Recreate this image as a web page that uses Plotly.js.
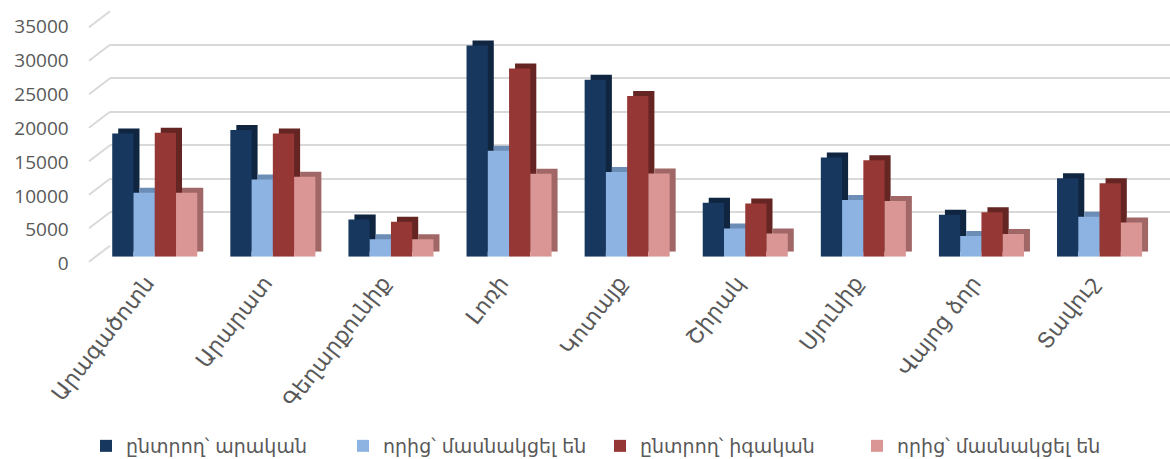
<!DOCTYPE html>
<html>
<head>
<meta charset="utf-8">
<script src="https://cdn.plot.ly/plotly-3.0.1.min.js"></script>
<style>html,body{margin:0;padding:0;background:#fff;}#chart{width:1170px;height:459px;}</style>
</head>
<body>
<div id="chart"></div>
<script>
// ---- data ----
const regions = ["Արագածոտն", "Արարատ", "Գեղարքունիք", "Լոռի", "Կոտայք", "Շիրակ", "Սյունիք", "Վայոց ձոր", "Տավուշ"];
const seriesNames = ["ընտրող՝ արական", "որից՝ մասնակցել են", "ընտրող՝ իգական", "որից՝ մասնակցել են"];
const maleVoters      = [18200, 18700, 5500, 31200, 26150, 7950, 14650, 6180, 11600];
const maleVoted       = [9450, 11400, 2560, 15630, 12520, 4180, 8360, 3050, 5900];
const femaleVoters    = [18300, 18200, 5150, 27800, 23750, 7870, 14260, 6580, 10860];
const femaleVoted     = [9450, 11800, 2560, 12250, 12290, 3440, 8210, 3350, 5060];
const yTicks = [0, 5000, 10000, 15000, 20000, 25000, 30000, 35000];

// ---- styling ----
const W = 1170, H = 459;
const faceColors = ["#17375E", "#8DB3E2", "#953735", "#D99694"];
const sideColors = ["#0F2540", "#6C8DB6", "#642523", "#A06766"];
const allSeries = [maleVoters, maleVoted, femaleVoters, femaleVoted];
const yMax = 35000;

// pixel geometry helpers
const px = v => v / W;
const py = v => (H - v) / H;
const mainX = [95.7, 1158.6], mainY = [256.7, 19.7];
const depthX = 6, depthY = 5;
const gridX = [110, 1170], gridY = [245.7, 11.2];

const traces = [];
// empty trace to hold the back-wall grid subplot
traces.push({x: [null], y: [null], type: 'scatter', mode: 'markers', xaxis: 'x', yaxis: 'y', showlegend: false, hoverinfo: 'skip'});
// side/top faces (3D depth)
allSeries.forEach((vals, i) => {
  traces.push({
    type: 'bar', x: regions, y: vals, xaxis: 'x2', yaxis: 'y2',
    marker: {color: sideColors[i], line: {width: 0}},
    showlegend: false, hoverinfo: 'skip', offsetgroup: String(i)
  });
});
// front faces
allSeries.forEach((vals, i) => {
  traces.push({
    type: 'bar', x: regions, y: vals, xaxis: 'x3', yaxis: 'y3', name: seriesNames[i],
    marker: {color: faceColors[i], line: {width: 0}}, offsetgroup: String(i)
  });
});

// slanted floor-to-wall grid connectors
const gDom = [py(gridY[0]), py(gridY[1])];
const shapes = yTicks.map(v => {
  const yb = gDom[0] + v / yMax * (gDom[1] - gDom[0]);
  return {type: 'line', xref: 'paper', yref: 'paper', x0: px(89), x1: px(gridX[0]),
          y0: yb - 16 / H, y1: yb, line: {color: '#D9D9D9', width: 2}, layer: 'below'};
});

const hidden = {showgrid: false, zeroline: false, showticklabels: false, ticks: '', showline: false};
const layout = {
  width: W, height: H,
  margin: {l: 0, r: 0, t: 0, b: 0, autoexpand: false},
  paper_bgcolor: '#ffffff', plot_bgcolor: 'rgba(0,0,0,0)',
  barmode: 'group', bargap: 0.28, bargroupgap: 0,
  showlegend: true,
  legend: {orientation: 'h', x: px(86), xanchor: 'left', y: py(446), yanchor: 'middle',
           font: {family: 'DejaVu Sans, Noto Sans', size: 19, color: '#595959'},
           itemwidth: 30, traceorder: 'normal', entrywidth: 212, entrywidthmode: 'pixels'},
  xaxis: Object.assign({domain: [px(gridX[0]), 1], anchor: 'y', range: [0, 1]}, hidden),
  yaxis: {domain: gDom, anchor: 'x', range: [0, yMax], tickvals: yTicks, showgrid: true,
          gridcolor: '#D9D9D9', gridwidth: 2, zeroline: false, showticklabels: false, ticks: ''},
  xaxis2: Object.assign({domain: [px(mainX[0] + depthX), px(mainX[1] + depthX)], anchor: 'y2',
           type: 'category', range: [-0.5, regions.length - 0.5]}, hidden),
  yaxis2: Object.assign({domain: [py(mainY[0] - depthY), py(mainY[1] - depthY)], anchor: 'x2',
           range: [0, yMax]}, hidden),
  xaxis3: {domain: [px(mainX[0]), px(mainX[1])], anchor: 'y3', type: 'category',
           range: [-0.5, regions.length - 0.5], showgrid: false, zeroline: false, showline: false,
           ticks: '', tickangle: -52, ticklabelstandoff: 8, ticklabelshift: -8,
           tickfont: {family: 'DejaVu Sans, Noto Sans', size: 22, color: '#595959'}},
  yaxis3: {domain: [py(mainY[0]), py(mainY[1])], anchor: 'x3', range: [0, yMax], tickvals: yTicks,
           tickformat: 'd',
           showgrid: false, zeroline: false, showline: false, ticks: '',
           ticklabelstandoff: 26, ticklabelshift: 7,
           tickfont: {family: 'Open Sans', size: 19, color: '#595959'}},
  shapes: shapes
};

Plotly.newPlot('chart', traces, layout, {displayModeBar: false, staticPlot: true});
</script>
</body>
</html>
